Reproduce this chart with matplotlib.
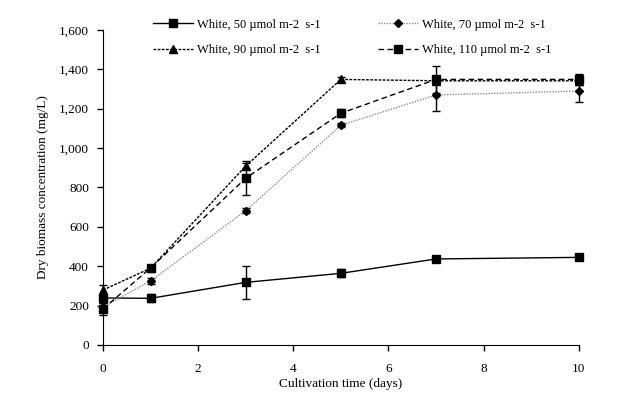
import numpy as np
import matplotlib
matplotlib.use('Agg')
import matplotlib.pyplot as plt
from matplotlib.lines import Line2D
from matplotlib.ticker import FuncFormatter

plt.rcParams['font.family'] = ['Liberation Serif', 'DejaVu Serif']

days = [0, 1, 3, 5, 7, 10]

w50 = [239, 237, 318, 364, 437, 445]
w50_err = [12, 20, 83, 20, 12, 15]

w70 = [193, 325, 682, 1116, 1270, 1290]
w70_err = [20, 15, 12, 10, 80, 55]

w90 = [279, 390, 909, 1349, 1342, 1342]
w90_err = [28, 10, 17, 12, 15, 15]

w110 = [183, 391, 847, 1177, 1349, 1349]
w110_err = [30, 12, 85, 20, 68, 27]

labels = ['White, 50 \u00b5mol m-2  s-1', 'White, 70 \u00b5mol m-2  s-1',
          'White, 90 \u00b5mol m-2  s-1', 'White, 110 \u00b5mol m-2  s-1']

fs = 9.5

fig = plt.figure(figsize=(6.23, 3.94), dpi=100)
ax = fig.add_axes([0.1653, 0.1244, 0.7637, 0.7995])

styles = [
    dict(color='k', ls='-', marker='s', ms=6),
    dict(color='#8c8c8c', ls=(0, (1, 1)), marker='D', ms=4),
    dict(color='k', ls=(0, (2, 1)), marker='^', ms=6),
    dict(color='k', ls=(0, (4, 2.5)), marker='s', ms=6),
]
series = [(w50, w50_err), (w70, w70_err), (w90, w90_err), (w110, w110_err)]

handles = []
for (vals, errs), st in zip(series, styles):
    h = ax.errorbar(days, vals, yerr=errs, lw=1, mfc='k', mec='k',
                    ecolor='k', elinewidth=1, capsize=3, capthick=1, **st)
    h[0].set_clip_on(False)
    for c in h[1] + h[2]:
        c.set_clip_on(False)
    handles.append(Line2D([], [], lw=1, mfc='k', mec='k', **st))

ax.set_xlim(0, 10)
ax.set_ylim(0, 1600)
ax.set_xticks(range(0, 11, 2))
ax.set_yticks(range(0, 1601, 200))
ax.yaxis.set_major_formatter(FuncFormatter(lambda v, p: f'{int(v):,}'))
ax.spines['top'].set_visible(False)
ax.spines['right'].set_visible(False)
ax.tick_params(direction='out', length=4, width=1, labelsize=fs, pad=6)
ax.tick_params(axis='x', pad=9)

ax.set_xlabel('Cultivation time (days)', fontsize=fs, labelpad=2)
ax.set_ylabel('Dry biomass concentration (mg/L)', fontsize=fs, labelpad=7)

# legend fills column-wise, so order entries to read row by row
order = [0, 2, 1, 3]
fig.legend([handles[i] for i in order], [labels[i] for i in order],
           loc='upper left', ncol=2, bbox_to_anchor=(0.238, 0.965),
           frameon=False, fontsize=9, handlelength=3.2, handletextpad=0.3,
           columnspacing=4.6, labelspacing=1.05, borderaxespad=0)

fig.savefig('out.png', dpi=100)
